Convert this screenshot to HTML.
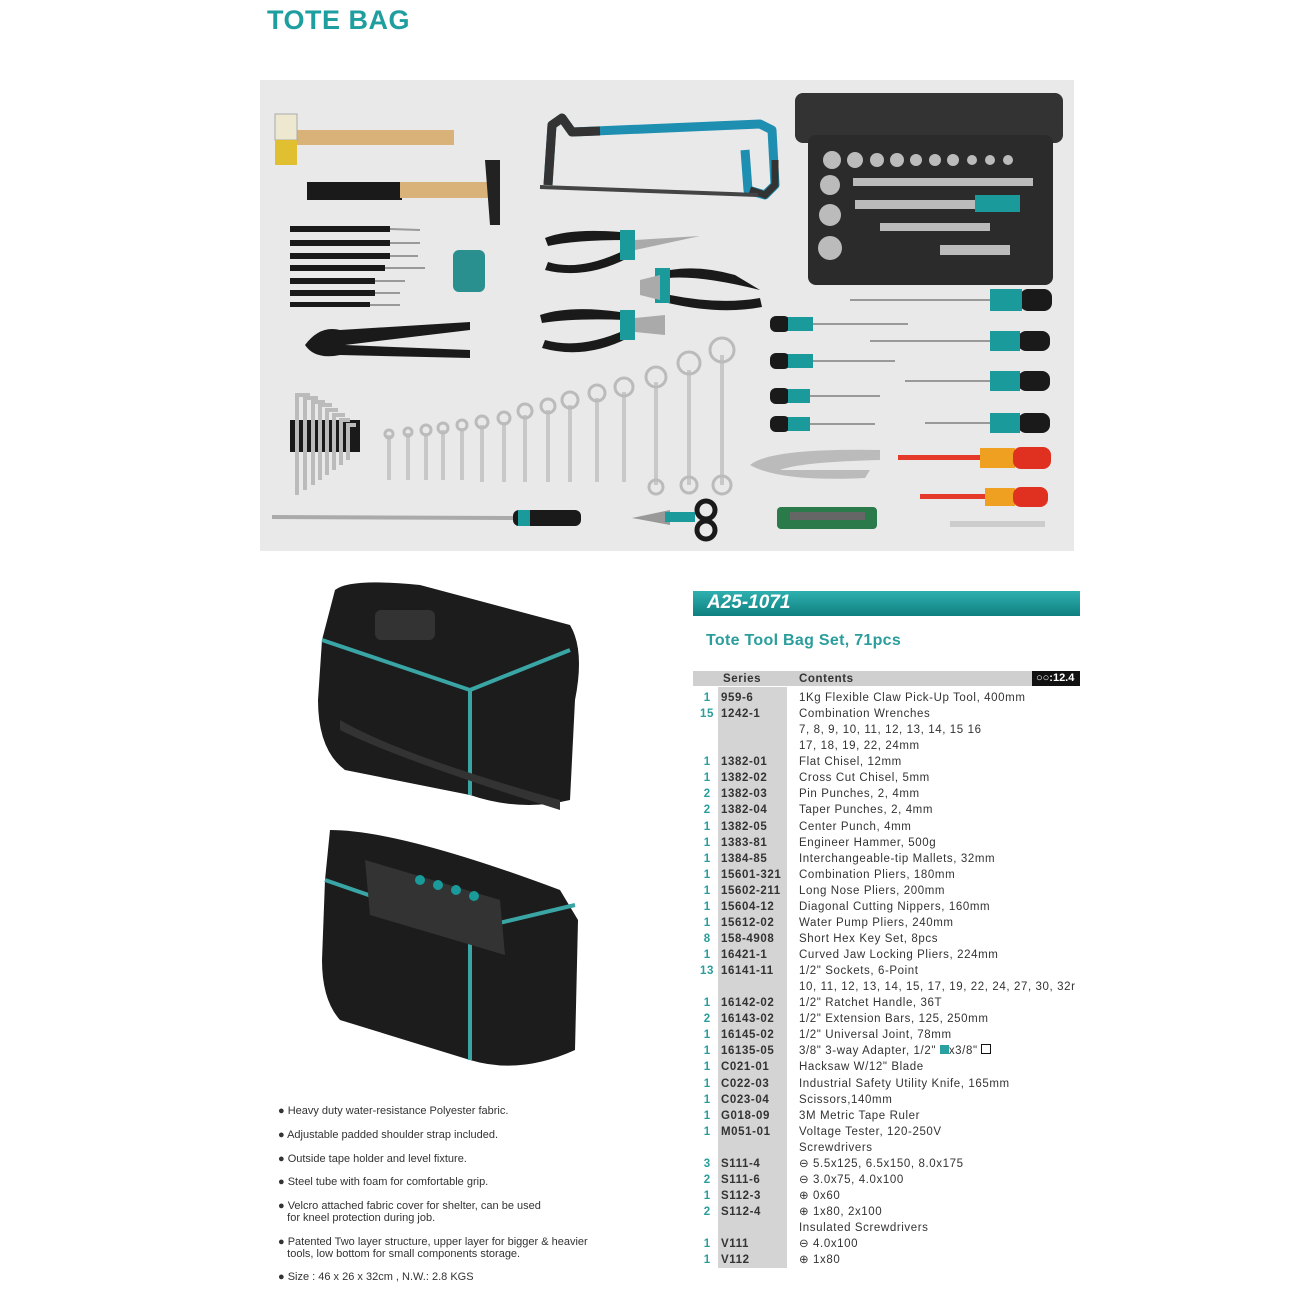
<!DOCTYPE html>
<html><head><meta charset="utf-8"><style>
body{margin:0;width:1300px;height:1300px;background:#fff;position:relative;overflow:hidden;font-family:"Liberation Sans",sans-serif}
.a{position:absolute}
.r{position:absolute;font-size:11.5px;letter-spacing:.6px;color:#333;white-space:nowrap;line-height:14px}
.q{color:#2a9d9d;font-weight:bold}
.s{font-weight:bold;color:#333}
.b{position:absolute;left:278px;font-size:11px;color:#333;line-height:12px}
</style></head><body>
<div class="a" style="left:267px;top:5px;font-size:27px;font-weight:bold;color:#1f9ea0;letter-spacing:.5px">TOTE BAG</div>
<svg class="a" style="left:0;top:0" width="1300" height="1300">
<rect x="260" y="80" width="814" height="471" fill="#e9e9e9"/>
<!-- hammers -->
<rect x="292" y="130" width="162" height="15" fill="#d9b27a"/>
<rect x="275" y="114" width="22" height="26" fill="#eee8d0" stroke="#aaa"/>
<rect x="275" y="140" width="22" height="25" fill="#e0c030"/>
<rect x="307" y="182" width="95" height="18" fill="#1a1a1a"/>
<rect x="400" y="182" width="90" height="16" fill="#d9b27a"/>
<polygon points="485,160 500,160 500,225 490,225" fill="#222"/>
<!-- hacksaw -->
<path d="M548,185 L552,125 L562,118 L572,132 L760,124 L772,130 L775,185 L765,195 L748,190 L745,150" stroke="#1e8fb0" stroke-width="9" fill="none" stroke-linejoin="round"/>
<path d="M548,185 L552,125 L562,118 L572,132 L600,131" stroke="#333" stroke-width="9" fill="none" stroke-linejoin="round"/>
<path d="M775,160 L775,185 L765,195 L750,190" stroke="#333" stroke-width="7" fill="none"/>
<line x1="540" y1="187" x2="758" y2="195" stroke="#444" stroke-width="4"/>
<!-- socket case -->
<rect x="795" y="93" width="268" height="50" rx="8" fill="#333"/>
<rect x="808" y="135" width="245" height="150" rx="8" fill="#2b2b2b"/>
<g fill="#bbb">
<circle cx="832" cy="160" r="9"/><circle cx="855" cy="160" r="8"/><circle cx="877" cy="160" r="7"/><circle cx="897" cy="160" r="7"/><circle cx="916" cy="160" r="6"/><circle cx="935" cy="160" r="6"/><circle cx="953" cy="160" r="6"/><circle cx="972" cy="160" r="5"/><circle cx="990" cy="160" r="5"/><circle cx="1008" cy="160" r="5"/>
<circle cx="830" cy="185" r="10"/><circle cx="830" cy="215" r="11"/><circle cx="830" cy="248" r="12"/>
<rect x="853" y="178" width="180" height="8"/><rect x="855" y="200" width="120" height="9"/><rect x="880" y="223" width="110" height="8"/><rect x="940" y="245" width="70" height="10"/>
</g>
<rect x="975" y="195" width="45" height="17" fill="#1a9a9a"/>
<!-- punches -->
<g fill="#1a1a1a"><rect x="290" y="226" width="100" height="6"/><rect x="290" y="240" width="100" height="6"/><rect x="290" y="253" width="100" height="6"/><rect x="290" y="265" width="95" height="6"/><rect x="290" y="278" width="85" height="6"/><rect x="290" y="290" width="85" height="6"/><rect x="290" y="302" width="80" height="5"/></g>
<g stroke="#999" stroke-width="2"><line x1="390" y1="229" x2="420" y2="230"/><line x1="390" y1="243" x2="420" y2="243"/><line x1="390" y1="256" x2="418" y2="256"/><line x1="385" y1="268" x2="425" y2="268"/><line x1="375" y1="281" x2="405" y2="281"/><line x1="375" y1="293" x2="400" y2="293"/><line x1="370" y1="305" x2="400" y2="305"/></g>
<rect x="453" y="250" width="32" height="42" rx="6" fill="#2a8f8f"/>
<!-- water pump pliers -->
<path d="M305,345 Q320,325 340,330 L470,322 L470,330 L345,345 L470,350 L470,358 L340,355 Q315,360 305,345Z" fill="#1a1a1a"/>
<!-- pliers -->
<g fill="#1a1a1a"><path d="M545,238 Q570,228 620,232 L625,240 Q575,240 548,246Z"/><path d="M548,262 Q580,272 625,250 L628,258 Q585,280 545,270Z"/>
<path d="M735,275 Q700,265 670,270 L668,278 Q700,275 760,290Z"/><path d="M760,298 Q720,305 670,295 L668,303 Q720,315 762,307Z"/>
<path d="M540,315 Q570,305 620,312 L625,320 Q575,318 542,323Z"/><path d="M545,340 Q580,350 625,330 L628,338 Q585,360 542,348Z"/></g>
<g fill="#1a9a9a"><rect x="620" y="230" width="15" height="30"/><rect x="655" y="268" width="15" height="35"/><rect x="620" y="310" width="15" height="30"/></g>
<g fill="#aaa"><polygon points="635,240 700,236 635,250"/><polygon points="640,280 660,275 660,300 640,295"/><polygon points="635,318 665,315 665,335 635,332"/></g>
<!-- screwdrivers -->
<g fill="#1a1a1a"><rect x="770" y="316" width="20" height="16" rx="6"/><rect x="770" y="353" width="20" height="16" rx="6"/><rect x="770" y="388" width="20" height="16" rx="6"/><rect x="770" y="416" width="20" height="16" rx="6"/>
<rect x="1020" y="289" width="32" height="22" rx="8"/><rect x="1018" y="331" width="32" height="20" rx="8"/><rect x="1018" y="371" width="32" height="20" rx="8"/><rect x="1018" y="413" width="32" height="20" rx="8"/></g>
<g fill="#1a9a9a"><rect x="788" y="317" width="25" height="14"/><rect x="788" y="354" width="25" height="14"/><rect x="788" y="389" width="22" height="14"/><rect x="788" y="417" width="22" height="14"/>
<rect x="990" y="289" width="32" height="22"/><rect x="990" y="331" width="30" height="20"/><rect x="990" y="371" width="30" height="20"/><rect x="990" y="413" width="30" height="20"/></g>
<g stroke="#999" stroke-width="2"><line x1="813" y1="324" x2="908" y2="324"/><line x1="813" y1="361" x2="895" y2="361"/><line x1="810" y1="396" x2="880" y2="396"/><line x1="810" y1="424" x2="875" y2="424"/>
<line x1="850" y1="300" x2="990" y2="300"/><line x1="870" y1="341" x2="990" y2="341"/><line x1="905" y1="381" x2="990" y2="381"/><line x1="925" y1="423" x2="990" y2="423"/></g>
<g fill="#e53a2a"><rect x="898" y="455" width="85" height="5"/><rect x="920" y="494" width="70" height="5"/></g>
<g fill="#f0a020"><rect x="980" y="448" width="35" height="20"/><rect x="985" y="488" width="30" height="18"/></g>
<g fill="#e03020"><rect x="1013" y="447" width="38" height="22" rx="8"/><rect x="1013" y="487" width="35" height="20" rx="8"/></g>
<rect x="950" y="521" width="95" height="6" fill="#ccc"/>
<!-- hex keys -->
<rect x="290" y="420" width="70" height="32" fill="#1a1a1a"/>
<g stroke="#bbb" stroke-width="4" fill="none"><path d="M297,495 V395 H310"/><path d="M305,490 V398 H318"/><path d="M313,485 V402 H325"/><path d="M320,480 V405 H332"/><path d="M327,475 V410 H338"/><path d="M334,470 V415 H345"/><path d="M341,465 V420 H350"/><path d="M348,460 V425 H356"/></g>
<!-- wrenches -->
<g stroke="#c8c8c8" fill="none" stroke-width="4">
<line x1="389" y1="435" x2="389" y2="480"/><line x1="408" y1="433" x2="408" y2="480"/><line x1="426" y1="433" x2="426" y2="480"/><line x1="443" y1="430" x2="443" y2="480"/><line x1="462" y1="428" x2="462" y2="480"/><line x1="482" y1="425" x2="482" y2="482"/><line x1="504" y1="422" x2="504" y2="482"/><line x1="525" y1="415" x2="525" y2="482"/><line x1="548" y1="410" x2="548" y2="482"/><line x1="570" y1="405" x2="570" y2="482"/><line x1="597" y1="398" x2="597" y2="482"/><line x1="624" y1="392" x2="624" y2="482"/><line x1="656" y1="382" x2="656" y2="485"/><line x1="689" y1="370" x2="689" y2="485"/><line x1="722" y1="355" x2="722" y2="485"/></g>
<g fill="none" stroke="#bbb" stroke-width="3"><circle cx="389" cy="434" r="4"/><circle cx="408" cy="432" r="4"/><circle cx="426" cy="430" r="5"/><circle cx="443" cy="428" r="5"/><circle cx="462" cy="425" r="5"/><circle cx="482" cy="422" r="6"/><circle cx="504" cy="418" r="6"/><circle cx="525" cy="411" r="7"/><circle cx="548" cy="406" r="7"/><circle cx="570" cy="400" r="8"/><circle cx="597" cy="393" r="8"/><circle cx="624" cy="387" r="9"/><circle cx="656" cy="377" r="10"/><circle cx="689" cy="363" r="11"/><circle cx="722" cy="350" r="12"/>
<circle cx="656" cy="487" r="7"/><circle cx="689" cy="485" r="8"/><circle cx="722" cy="485" r="9"/></g>
<!-- locking pliers -->
<path d="M750,465 Q770,448 880,450 L880,460 Q800,462 780,470 L870,470 L865,478 Q780,482 750,465Z" fill="#bbb"/>
<!-- pickup -->
<line x1="272" y1="517" x2="515" y2="518" stroke="#aaa" stroke-width="4"/>
<rect x="513" y="510" width="68" height="16" rx="6" fill="#1a1a1a"/><rect x="518" y="510" width="12" height="16" fill="#1a9a9a"/>
<!-- scissors -->
<polygon points="632,518 670,510 670,525" fill="#999"/>
<circle cx="706" cy="510" r="9" fill="none" stroke="#1a1a1a" stroke-width="5"/><circle cx="706" cy="530" r="9" fill="none" stroke="#1a1a1a" stroke-width="5"/>
<rect x="665" y="512" width="30" height="10" fill="#1a9a9a"/>
<!-- knife -->
<rect x="777" y="507" width="100" height="22" rx="4" fill="#2a7a4a"/><rect x="790" y="512" width="75" height="8" fill="#666"/>
<!-- bags -->
<path d="M335,590 Q350,578 420,585 L570,625 Q585,650 575,700 L570,800 Q520,812 470,795 L345,770 Q318,750 318,700 L322,640Z" fill="#1c1c1c"/>
<path d="M322,640 L470,690 L470,795 M470,690 L570,650" stroke="#3aa5a5" stroke-width="4" fill="none"/>
<path d="M340,730 Q400,760 560,810 L560,800 Q400,755 340,720Z" fill="#333"/>
<rect x="375" y="610" width="60" height="30" rx="6" fill="#333"/>
<path d="M330,830 Q400,830 560,890 L578,920 L575,1050 Q520,1075 470,1060 L340,1020 Q322,1000 322,960 L325,880Z" fill="#1c1c1c"/>
<path d="M325,880 L470,930 L470,1060 M470,930 L575,905" stroke="#3aa5a5" stroke-width="4" fill="none"/>
<path d="M365,860 L500,900 L505,955 L370,915Z" fill="#333"/>
<g fill="#1a9a9a"><circle cx="420" cy="880" r="5"/><circle cx="438" cy="885" r="5"/><circle cx="456" cy="890" r="5"/><circle cx="474" cy="896" r="5"/></g>
</svg>
<div class="a" style="left:693px;top:591px;width:387px;height:25px;background:linear-gradient(#2fb0b0,#0f7f7f)"></div>
<div class="a" style="left:707px;top:592px;font-size:19px;font-weight:bold;font-style:italic;color:#fff">A25-1071</div>
<div class="a" style="left:706px;top:632px;font-size:16px;font-weight:bold;color:#2a9d9d;letter-spacing:.3px">Tote Tool Bag Set, 71pcs</div>
<div class="a" style="left:693px;top:671px;width:387px;height:15px;background:#cfcfcf"></div>
<div class="a" style="left:1032px;top:671px;width:48px;height:15px;background:#111;color:#fff;font-size:11px;font-weight:bold;line-height:15px;padding-left:4px;box-sizing:border-box">&#9675;&#9675;:12.4</div>
<div class="a" style="left:718px;top:687px;width:69px;height:581px;background:#d4d4d4"></div>
<div class="r s" style="left:723px;top:672px">Series</div>
<div class="r s" style="left:799px;top:672px">Contents</div>
<div class="r" style="left:700px;top:690px;line-height:16.06px">
<span class="q">&nbsp;1</span><br><span class="q">15</span><br><br><br><span class="q">&nbsp;1</span><br><span class="q">&nbsp;1</span><br><span class="q">&nbsp;2</span><br><span class="q">&nbsp;2</span><br><span class="q">&nbsp;1</span><br><span class="q">&nbsp;1</span><br><span class="q">&nbsp;1</span><br><span class="q">&nbsp;1</span><br><span class="q">&nbsp;1</span><br><span class="q">&nbsp;1</span><br><span class="q">&nbsp;1</span><br><span class="q">&nbsp;8</span><br><span class="q">&nbsp;1</span><br><span class="q">13</span><br><br><span class="q">&nbsp;1</span><br><span class="q">&nbsp;2</span><br><span class="q">&nbsp;1</span><br><span class="q">&nbsp;1</span><br><span class="q">&nbsp;1</span><br><span class="q">&nbsp;1</span><br><span class="q">&nbsp;1</span><br><span class="q">&nbsp;1</span><br><span class="q">&nbsp;1</span><br><br><span class="q">&nbsp;3</span><br><span class="q">&nbsp;2</span><br><span class="q">&nbsp;1</span><br><span class="q">&nbsp;2</span><br><br><span class="q">&nbsp;1</span><br><span class="q">&nbsp;1</span></div>
<div class="r s" style="left:721px;top:690px;line-height:16.06px">959-6<br>1242-1<br><br><br>1382-01<br>1382-02<br>1382-03<br>1382-04<br>1382-05<br>1383-81<br>1384-85<br>15601-321<br>15602-211<br>15604-12<br>15612-02<br>158-4908<br>16421-1<br>16141-11<br><br>16142-02<br>16143-02<br>16145-02<br>16135-05<br>C021-01<br>C022-03<br>C023-04<br>G018-09<br>M051-01<br><br>S111-4<br>S111-6<br>S112-3<br>S112-4<br><br>V111<br>V112</div>
<div class="r" style="left:799px;top:690px;line-height:16.06px">1Kg Flexible Claw Pick-Up Tool, 400mm<br>Combination Wrenches<br>7, 8, 9, 10, 11, 12, 13, 14, 15 16<br>17, 18, 19, 22, 24mm<br>Flat Chisel, 12mm<br>Cross Cut Chisel, 5mm<br>Pin Punches, 2, 4mm<br>Taper Punches, 2, 4mm<br>Center Punch, 4mm<br>Engineer Hammer, 500g<br>Interchangeable-tip Mallets, 32mm<br>Combination Pliers, 180mm<br>Long Nose Pliers, 200mm<br>Diagonal Cutting Nippers, 160mm<br>Water Pump Pliers, 240mm<br>Short Hex Key Set, 8pcs<br>Curved Jaw Locking Pliers, 224mm<br>1/2" Sockets, 6-Point<br>10, 11, 12, 13, 14, 15, 17, 19, 22, 24, 27, 30, 32r<br>1/2" Ratchet Handle, 36T<br>1/2" Extension Bars, 125, 250mm<br>1/2" Universal Joint, 78mm<br>3/8" 3-way Adapter, 1/2" <span style="display:inline-block;width:9px;height:9px;background:#2aa0a0"></span>x3/8" <span style="display:inline-block;width:8px;height:8px;border:1.5px solid #111"></span><br>Hacksaw W/12" Blade<br>Industrial Safety Utility Knife, 165mm<br>Scissors,140mm<br>3M Metric Tape Ruler<br>Voltage Tester, 120-250V<br>Screwdrivers<br>&#8854; 5.5x125, 6.5x150, 8.0x175<br>&#8854; 3.0x75, 4.0x100<br>&#8853; 0x60<br>&#8853; 1x80, 2x100<br>Insulated Screwdrivers<br>&#8854; 4.0x100<br>&#8853; 1x80</div>
<div class="b" style="top:1105px">● Heavy duty water-resistance Polyester fabric.</div>
<div class="b" style="top:1129px">● Adjustable padded shoulder strap included.</div>
<div class="b" style="top:1153px">● Outside tape holder and level fixture.</div>
<div class="b" style="top:1176px">● Steel tube with foam for comfortable grip.</div>
<div class="b" style="top:1200px">● Velcro attached fabric cover for shelter, can be used<br>&nbsp;&nbsp;&nbsp;for kneel protection during job.</div>
<div class="b" style="top:1236px">● Patented Two layer structure, upper layer for bigger &amp; heavier<br>&nbsp;&nbsp;&nbsp;tools, low bottom for small components storage.</div>
<div class="b" style="top:1271px">● Size : 46 x 26 x 32cm , N.W.: 2.8 KGS</div>
</body></html>
